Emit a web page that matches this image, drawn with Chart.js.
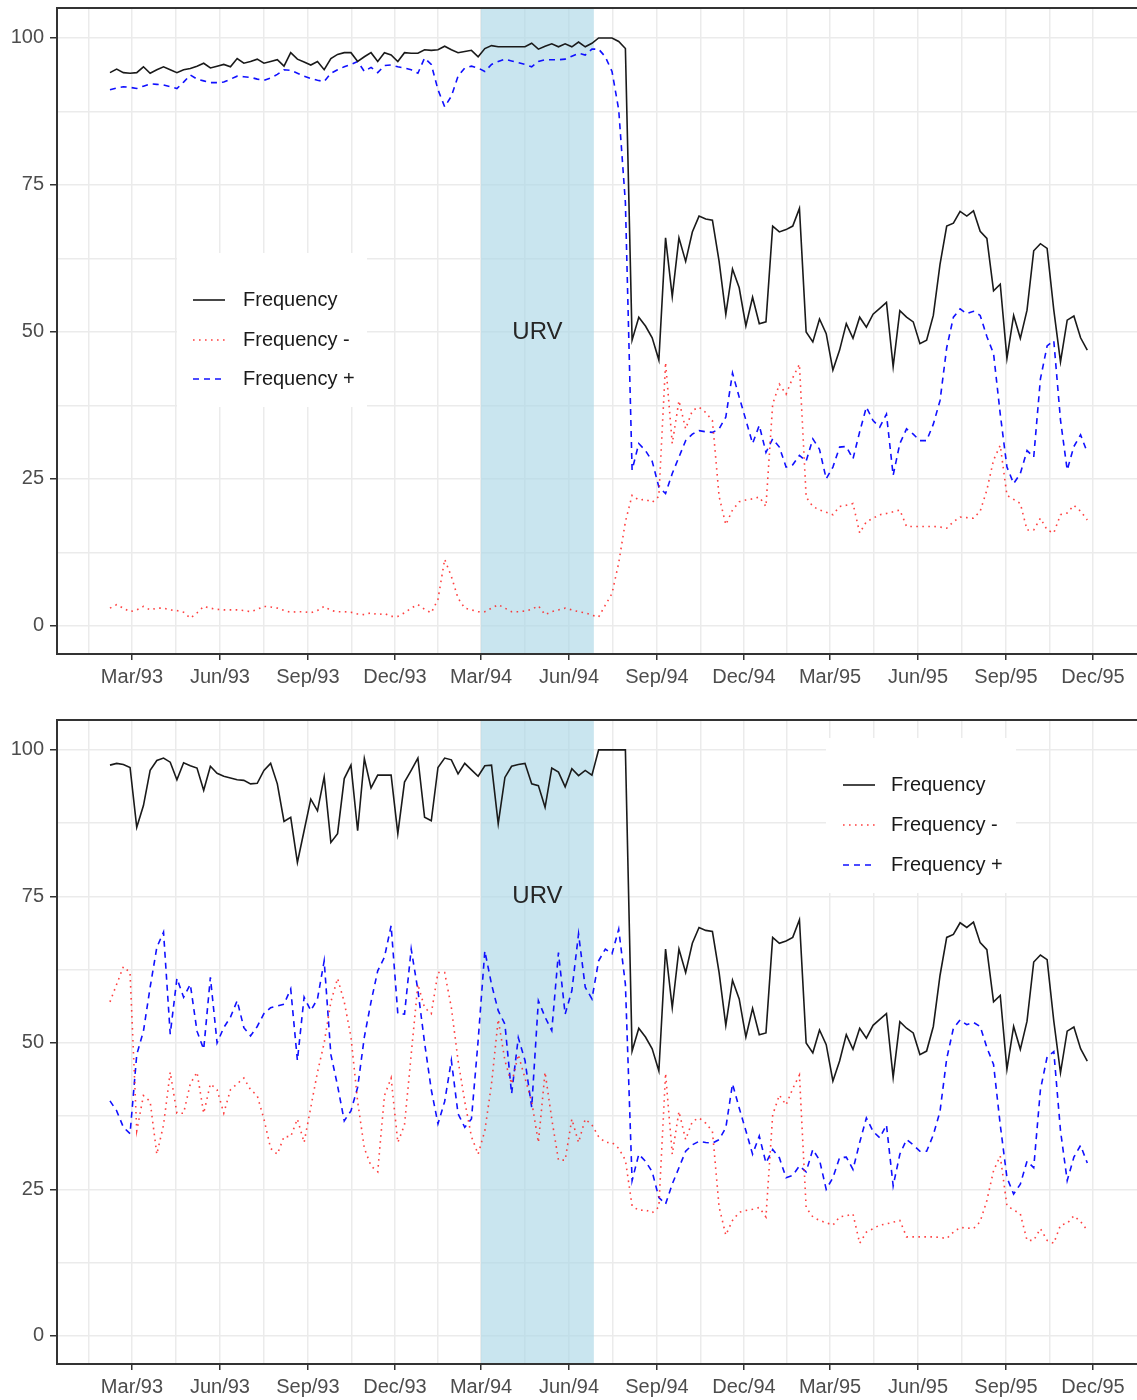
<!DOCTYPE html>
<html>
<head>
<meta charset="utf-8">
<script src="https://cdn.jsdelivr.net/npm/chart.js@4.4.1/dist/chart.umd.min.js"></script>
<style>
  html, body { margin: 0; padding: 0; background: #fff; overflow: hidden; }
  .panel { position: absolute; left: 0; width: 1137px; }
  #top { top: 0; height: 705px; }
  #bottom { top: 705px; height: 695px; }
</style>
</head>
<body>
<div class="panel" id="top"><canvas id="chartTop"></canvas></div>
<div class="panel" id="bottom"><canvas id="chartBottom"></canvas></div>
<script>
// weekly observations, x = days since 1 Jan 1993
const FIRST_WEEK_DAY = 36;
const seriesNames = ["Frequency", "Frequency -", "Frequency +"];

const xTickDays = [59, 151, 243, 334, 424, 516, 608, 699, 789, 881, 973, 1064];
const xTickLabels = ["Mar/93", "Jun/93", "Sep/93", "Dec/93", "Mar/94", "Jun/94",
                     "Sep/94", "Dec/94", "Mar/95", "Jun/95", "Sep/95", "Dec/95"];
const xMinorDays = [14, 105, 197, 288.5, 379, 470, 562, 653.5, 744, 835, 927, 1018.5];
const yTicks = [0, 25, 50, 75, 100];
const yMinor = [12.5, 37.5, 62.5, 87.5];

const urvDays = [424, 542];
const urvLabel = "URV";

// top panel, weeks 0..77
const topFreq = [
  94.1, 94.7, 94.1, 94.0, 94.1, 95.1, 94.0, 94.6, 95.1, 94.6,
  94.1, 94.6, 94.8, 95.2, 95.7, 94.9, 95.2, 95.5, 95.1, 96.5,
  95.7, 96.0, 96.4, 95.7, 96.0, 96.3, 95.2, 97.5, 96.4, 95.9,
  95.4, 96.0, 94.6, 96.5, 97.2, 97.5, 97.5, 96.0, 96.8, 97.5,
  96.0, 97.5, 97.1, 96.0, 97.5, 97.4, 97.4, 98.0, 97.9, 98.0,
  98.6, 98.0, 97.5, 97.7, 97.9, 96.8, 98.2, 98.7, 98.5, 98.5,
  98.5, 98.5, 98.5, 99.1, 98.1, 98.6, 99.0, 98.5, 99.0, 98.5,
  99.3, 98.5, 99.1, 100, 100, 100, 99.4, 98.2];
const topFreqMinus = [
  3.0, 3.6, 3.0, 2.4, 2.7, 3.3, 2.7, 3.0, 3.0, 2.7,
  2.6, 2.3, 1.3, 2.2, 3.3, 3.0, 2.8, 2.7, 2.7, 2.7,
  2.6, 2.4, 2.8, 3.3, 3.2, 3.0, 2.6, 2.3, 2.4, 2.4,
  2.2, 2.6, 3.3, 2.6, 2.4, 2.4, 2.3, 2.0, 1.9, 2.2,
  1.9, 2.1, 1.6, 1.6, 2.2, 3.0, 3.6, 2.8, 2.2, 4.5,
  11.3, 8.4, 4.7, 3.0, 2.7, 2.4, 2.4, 3.0, 3.6, 3.0,
  2.4, 2.4, 2.5, 2.8, 3.4, 1.9, 2.4, 2.7, 3.0, 2.7,
  2.4, 2.2, 1.8, 1.5, 3.5, 5.5, 10.7, 17.7];
const topFreqPlus = [
  91.2, 91.5, 91.7, 91.6, 91.4, 91.8, 92.2, 92.1, 92.0, 91.7,
  91.4, 92.5, 93.7, 93.0, 92.7, 92.4, 92.4, 92.5, 93.0, 93.5,
  93.4, 93.3, 93.0, 92.8, 93.2, 93.8, 94.6, 94.5, 94.0, 93.5,
  93.1, 92.8, 92.6, 94.0, 94.6, 95.1, 95.5, 96.0, 94.3, 95.0,
  94.1, 95.3, 95.4, 95.1, 94.9, 94.6, 94.0, 96.6, 95.5, 91.2,
  88.3, 90.1, 93.5, 94.9, 95.2, 94.9, 94.3, 95.5, 96.0, 96.4,
  96.1, 95.8, 95.5, 95.1, 96.0, 96.3, 96.3, 96.3, 96.4, 96.9,
  97.4, 97.1, 98.1, 98.1, 96.8, 94.3, 87.8, 72.0];

// bottom panel, weeks 0..77
const botFreq = [
  97.4, 97.7, 97.5, 97.0, 86.8, 90.5, 96.5, 98.2, 98.6, 97.9,
  94.9, 97.8, 97.3, 96.9, 93.1, 97.2, 96.0, 95.5, 95.2, 94.9,
  94.8, 94.2, 94.3, 96.5, 97.7, 94.2, 87.8, 88.5, 80.8, 86.2,
  91.6, 89.6, 95.4, 84.2, 85.7, 95.1, 97.4, 86.2, 98.5, 93.5,
  95.7, 95.7, 95.7, 85.7, 94.5, 96.5, 98.6, 88.5, 87.9, 97.0,
  98.6, 98.3, 95.9, 97.7, 96.6, 95.5, 97.3, 97.4, 87.4, 95.3,
  97.2, 97.5, 97.7, 94.2, 93.9, 90.2, 96.9, 96.2, 93.7, 96.8,
  95.6, 96.5, 95.7, 100, 100, 100, 100, 100];
const botFreqMinus = [
  57, 60, 63, 62, 35, 41, 40, 31, 36, 45,
  38, 38, 43, 45, 38, 43, 42, 38, 42, 43,
  44, 42, 41, 37, 32, 31, 34, 34, 37, 33,
  39, 45, 50, 57, 61, 57, 51, 40, 32, 29,
  28, 41, 44, 33, 36, 48, 60, 56, 55, 62,
  62, 56, 47, 40, 34, 31, 35, 43, 54, 47,
  43, 48, 44, 40, 33, 45, 37, 30, 30, 37,
  33, 37, 36, 34, 33, 33, 32, 30];
const botFreqPlus = [
  40.1, 38.4, 35.6, 34.5, 48.0, 52.0, 59.5, 66.3, 68.9, 51.5,
  61.0, 57.8, 60.0, 52.0, 48.9, 61.2, 50.0, 52.6, 54.4, 57.2,
  52.6, 51.2, 52.8, 55.0, 56.0, 56.3, 56.6, 59.2, 47.0, 57.8,
  55.5, 57.5, 64.0, 48.0, 42.7, 36.7, 38.4, 42.4, 51.0, 57.0,
  62.3, 64.6, 70.0, 55.0, 54.9, 66.0, 59.0, 50.0, 42.0, 36.2,
  40.0, 47.0, 37.9, 35.6, 37.0, 50.4, 65.7, 60.0, 55.5, 53.2,
  41.3, 50.9, 47.0, 39.0, 57.2, 54.4, 52.1, 65.4, 54.9, 58.9,
  68.6, 59.5, 57.5, 64.0, 66.0, 65.2, 69.4, 60.0];

// both panels, weeks 78..146
const lateFreq = [
  48.6, 52.5, 51.0, 49.0, 45.2, 66.0, 56.0, 66.0, 62.0, 67.0,
  69.7, 69.2, 69.0, 62.0, 53.0, 60.7, 57.5, 51.0, 55.9, 51.4,
  51.7, 68.0, 67.0, 67.4, 68.0, 71.0, 50.0, 48.3, 52.2, 49.7,
  43.5, 46.9, 51.4, 48.9, 52.5, 50.8, 53.0, 54.0, 55.0, 44.1,
  53.6, 52.5, 51.7, 48.0, 48.6, 52.8, 61.5, 68.0, 68.5, 70.5,
  69.7, 70.6, 67.1, 65.9, 57.0, 58.1, 45.5, 52.8, 48.9, 53.7,
  63.8, 65.0, 64.2, 53.7, 44.9, 52.0, 52.7, 49.0, 46.9];
const lateFreqMinus = [
  22.2, 21.4, 21.5, 21.0, 22.0, 44.8, 31.0, 38.3, 33.5, 36.6,
  37.2, 36.3, 34.9, 22.0, 17.2, 19.7, 21.1, 21.4, 21.6, 21.9,
  20.3, 37.7, 41.1, 39.4, 42.2, 44.5, 21.9, 20.3, 19.7, 19.3,
  18.9, 20.3, 20.5, 20.8, 15.8, 17.7, 18.3, 18.9, 19.1, 19.4,
  19.7, 16.9, 16.9, 16.9, 16.9, 16.9, 16.8, 16.6, 17.7, 18.5,
  18.4, 18.3, 19.5, 23.1, 28.2, 30.7, 22.2, 21.5, 20.8, 16.3,
  16.3, 18.3, 16.3, 15.8, 18.9, 19.2, 20.5, 19.5, 18.0];
const lateFreqPlus = [
  26.5, 31.0, 29.8, 28.0, 23.6, 22.5, 25.9, 28.7, 31.5, 32.6,
  33.2, 33.0, 32.9, 33.5, 35.5, 43.0, 38.9, 35.0, 31.0, 34.1,
  29.5, 31.8, 30.4, 27.0, 27.4, 29.0, 28.0, 31.8, 30.0, 25.0,
  27.0, 30.4, 30.5, 28.4, 33.0, 37.2, 34.9, 33.8, 36.0, 25.6,
  31.0, 33.5, 32.6, 31.5, 31.5, 34.3, 38.3, 47.3, 52.5, 53.9,
  53.1, 53.5, 52.8, 49.2, 46.3, 36.0, 27.0, 24.2, 25.9, 29.8,
  28.7, 42.0, 47.6, 48.5, 35.0, 26.5, 30.5, 32.5, 29.5];

const FONT = "'Liberation Sans', Arial, Helvetica, sans-serif";

function toPoints(vals) {
  return vals.map((v, i) => ({ x: FIRST_WEEK_DAY + 7 * i, y: v }));
}

const urvPlugin = {
  id: 'urv',
  beforeDatasetsDraw(chart, args, opts) {
    const { ctx, chartArea, scales } = chart;
    const x1 = scales.x.getPixelForValue(urvDays[0]);
    const x2 = scales.x.getPixelForValue(urvDays[1]);
    ctx.save();
    ctx.fillStyle = 'rgba(173, 216, 230, 0.66)';
    ctx.fillRect(x1, chartArea.top + 1, x2 - x1, chartArea.bottom - chartArea.top - 2);
    ctx.fillStyle = '#262626';
    ctx.font = '24px ' + FONT;
    ctx.textAlign = 'center';
    ctx.textBaseline = 'middle';
    ctx.fillText(urvLabel, (x1 + x2) / 2, scales.y.getPixelForValue(opts.labelY));
    ctx.restore();
  }
};

const keyLegend = {
  id: 'keyLegend',
  afterDatasetsDraw(chart, args, o) {
    const ctx = chart.ctx;
    ctx.save();
    ctx.fillStyle = '#ffffff';
    ctx.fillRect(o.box[0], o.box[1], o.box[2] - o.box[0], o.box[3] - o.box[1]);
    chart.data.datasets.forEach((ds, i) => {
      const y = o.rows[i];
      ctx.beginPath();
      ctx.strokeStyle = ds.borderColor;
      ctx.lineWidth = ds.borderWidth;
      ctx.setLineDash(ds.borderDash || []);
      ctx.moveTo(o.keyX[0], y);
      ctx.lineTo(o.keyX[1], y);
      ctx.stroke();
      ctx.setLineDash([]);
      ctx.fillStyle = '#1a1a1a';
      ctx.font = '20px ' + FONT;
      ctx.textAlign = 'left';
      ctx.textBaseline = 'middle';
      ctx.fillText(ds.label, o.textX, y);
    });
    ctx.restore();
  }
};

const topFrame = {
  id: 'topFrame',
  afterDraw(chart) {
    const { ctx, chartArea } = chart;
    ctx.save();
    ctx.strokeStyle = '#333333';
    ctx.lineWidth = 2;
    ctx.beginPath();
    ctx.moveTo(chartArea.left - 1, chartArea.top);
    ctx.lineTo(chartArea.right, chartArea.top);
    ctx.stroke();
    ctx.restore();
  }
};

function buildChart(id, freq, minus, plus, lay) {
  const ctx = document.getElementById(id).getContext('2d');
  return new Chart(ctx, {
    type: 'line',
    data: {
      datasets: [
        { label: seriesNames[0], data: toPoints(freq), borderColor: '#1a1a1a',
          borderWidth: 1.6, pointRadius: 0, tension: 0 },
        { label: seriesNames[1], data: toPoints(minus), borderColor: 'rgba(255, 30, 30, 0.85)',
          borderWidth: 1.6, borderDash: [1.6, 4.4], pointRadius: 0, tension: 0 },
        { label: seriesNames[2], data: toPoints(plus), borderColor: '#1010ff',
          borderWidth: 1.6, borderDash: [6, 5], pointRadius: 0, tension: 0 }
      ]
    },
    options: {
      responsive: true,
      maintainAspectRatio: false,
      animation: false,
      layout: { padding: { top: lay.top, right: 0, left: 0, bottom: 0 } },
      plugins: {
        legend: { display: false },
        tooltip: { enabled: false },
        urv: { labelY: lay.urvY },
        keyLegend: lay.legend
      },
      scales: {
        x: {
          type: 'linear', min: -19.4, max: 1110,
          afterBuildTicks: s => {
            s.ticks = xTickDays.concat(xMinorDays).sort((a, b) => a - b).map(v => ({ value: v }));
          },
          afterFit: s => { s.height = lay.xAxisHeight; s.paddingLeft = 0; s.paddingRight = 0; },
          ticks: {
            autoSkip: false, maxRotation: 0, minRotation: 0, padding: lay.tickPad,
            color: '#4d4d4d', font: { family: FONT, size: 20 },
            callback: v => { const k = xTickDays.indexOf(v); return k >= 0 ? xTickLabels[k] : ''; }
          },
          grid: {
            color: '#ebebeb', lineWidth: 1.5, tickLength: 6, tickWidth: 1.5,
            tickColor: c => (c.tick && xTickDays.includes(c.tick.value)) ? '#333333' : 'rgba(0,0,0,0)'
          },
          border: { color: '#333333', width: 2 }
        },
        y: {
          min: -4.8, max: 105.1,
          afterBuildTicks: s => {
            s.ticks = yTicks.concat(yMinor).sort((a, b) => a - b).map(v => ({ value: v }));
          },
          afterFit: s => { s.width = 57; s.paddingTop = 0; s.paddingBottom = 0; },
          ticks: {
            padding: 6, color: '#4d4d4d', font: { family: FONT, size: 20 },
            callback: v => yTicks.includes(v) ? String(v) : ''
          },
          grid: {
            color: '#ebebeb', lineWidth: 1.5, tickLength: 7, tickWidth: 1.5,
            tickColor: c => (c.tick && yTicks.includes(c.tick.value)) ? '#333333' : 'rgba(0,0,0,0)'
          },
          border: { color: '#333333', width: 2 }
        }
      }
    },
    plugins: [urvPlugin, keyLegend, topFrame]
  });
}

buildChart('chartTop',
  topFreq.concat(lateFreq), topFreqMinus.concat(lateFreqMinus), topFreqPlus.concat(lateFreqPlus),
  { top: 8, xAxisHeight: 51, tickPad: 5, urvY: 50,
    legend: { box: [177, 253, 367, 407], keyX: [193, 225], textX: 243, rows: [300, 340, 379] } });

buildChart('chartBottom',
  botFreq.concat(lateFreq), botFreqMinus.concat(lateFreqMinus), botFreqPlus.concat(lateFreqPlus),
  { top: 15, xAxisHeight: 36, tickPad: 5, urvY: 75,
    legend: { box: [826, 33, 1016, 188], keyX: [843, 875], textX: 891, rows: [80, 120, 160] } });
</script>
</body>
</html>
